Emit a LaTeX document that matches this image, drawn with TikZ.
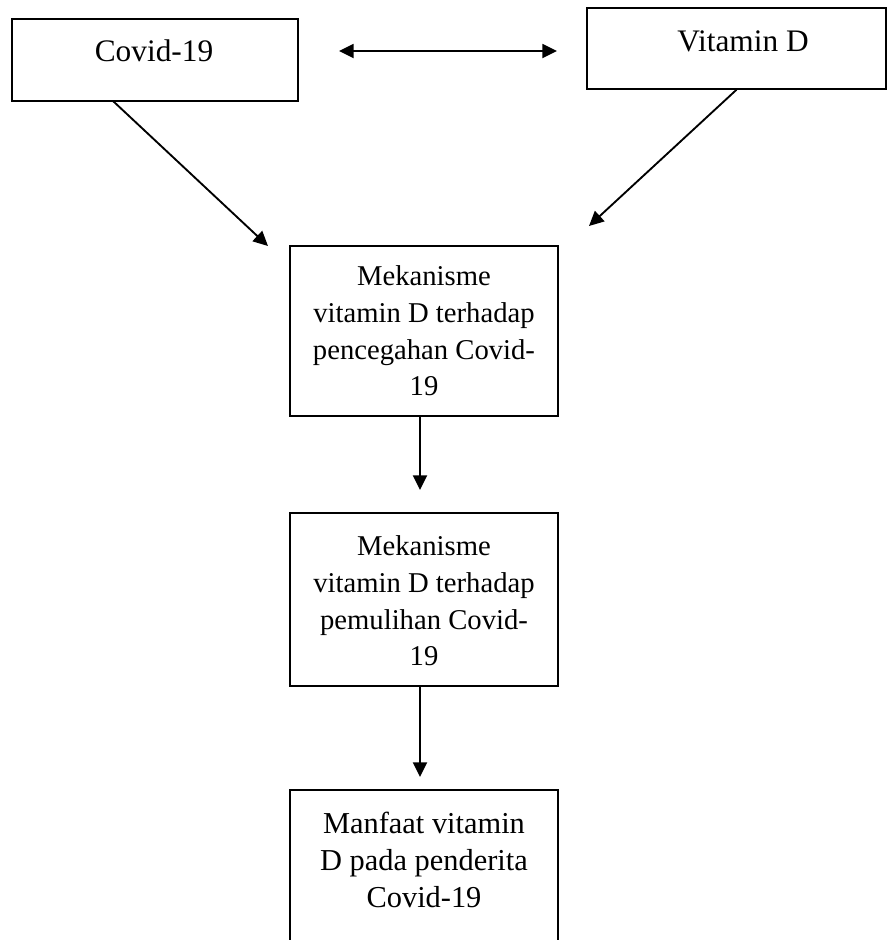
\documentclass[tikz,border=0pt]{standalone}
\usepackage{fontspec}
\setmainfont{Liberation Serif}
\usetikzlibrary{arrows.meta}
\begin{document}
\begin{tikzpicture}[x=0.75pt,y=-0.75pt,
  box/.style={draw,line width=1.1pt,rectangle,inner sep=0pt},
  lbl/.style={font=\fontsize{21.5}{27.5}\selectfont,align=center,inner sep=0pt},
  toplbl/.style={font=\fontsize{23.5}{28}\selectfont,align=center,inner sep=0pt},
  endlbl/.style={font=\fontsize{22.8}{28}\selectfont,align=center,inner sep=0pt},
  arr/.style={line width=1.4pt,-{Triangle[length=11pt,width=10.5pt]}},
  darr/.style={line width=1.4pt,{Triangle[length=11pt,width=10.5pt]}-{Triangle[length=11pt,width=10.5pt]}}]
\clip (0,0) rectangle (888,940);
\node[box,minimum width=214.5pt,minimum height=61.5pt] (covid) at (155,60) {};
\node[toplbl] (covidt) at (154,51) {Covid-19};
\node[box,minimum width=224.25pt,minimum height=60.75pt] (vit) at (736.5,48.5) {};
\node[toplbl] (vitt) at (743,41) {Vitamin D};
\node[box,minimum width=201pt,minimum height=127.5pt] (b1) at (424,331) {};
\node[lbl] (b1t) at (424,331) {Mekanisme\\vitamin D terhadap\\pencegahan Covid-\\19};
\node[box,minimum width=201pt,minimum height=129.75pt] (b2) at (424,599.5) {};
\node[lbl] (b2t) at (424,601) {Mekanisme\\vitamin D terhadap\\pemulihan Covid-\\19};
\node[box,minimum width=201pt,minimum height=150pt] (b3) at (424,890) {};
\node[endlbl] (b3t) at (424,860) {Manfaat vitamin\\D pada penderita\\Covid-19};
\coordinate (d1) at (339,51);
\coordinate (d2) at (557,51);
\draw[darr] (d1) -- (d2);
\coordinate (c1) at (113,101);
\coordinate (t1) at (268,246);
\draw[arr] (c1) -- (t1);
\coordinate (t2) at (589,226);
\draw[arr] (vit.south) -- (t2);
\coordinate (a1) at (420,416);
\coordinate (a1e) at (420,490);
\draw[arr] (a1) -- (a1e);
\coordinate (a2) at (420,686);
\coordinate (a2e) at (420,777);
\draw[arr] (a2) -- (a2e);
\end{tikzpicture}
\end{document}
